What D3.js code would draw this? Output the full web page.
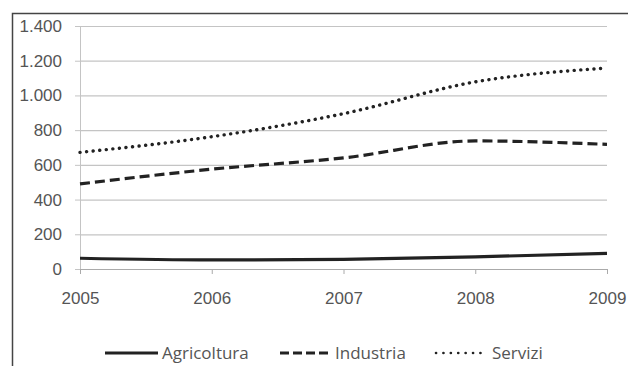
<!DOCTYPE html>
<html>
<head>
<meta charset="utf-8">
<script src="https://cdn.jsdelivr.net/npm/d3@7"></script>
<style>
  body { margin: 0; background: #fff; }
  svg { display: block; font-family: "Open Sans", "Noto Sans", sans-serif; }
</style>
</head>
<body>
<div id="chart"></div>
<script>
// years on the x axis
const years = [2005, 2006, 2007, 2008, 2009];
// values per sector
const agricoltura = [62, 52, 56, 70, 90];
const industria = [490, 575, 640, 738, 718];
const servizi = [672, 762, 895, 1078, 1158];
const yTicks = [0, 200, 400, 600, 800, 1000, 1200, 1400];

const series = [
  { name: "Agricoltura", values: agricoltura, dash: null, cap: "butt" },
  { name: "Industria", values: industria, dash: "10,5", cap: "butt" },
  { name: "Servizi", values: servizi, dash: "0.1,6.5", cap: "round" }
];

const W = 628, H = 366;
const margin = { top: 26, right: 21, bottom: 97, left: 80 };
const width = W - margin.left - margin.right;
const height = H - margin.top - margin.bottom;

const svg = d3.select("#chart").append("svg")
  .attr("width", W).attr("height", H);

// frame (top and left edges visible)
svg.append("path")
  .attr("d", `M12.5,${H} L12.5,13.5 L${W},13.5`)
  .attr("fill", "none").attr("stroke", "#444").attr("stroke-width", 1.5);

const g = svg.append("g").attr("transform", `translate(${margin.left},${margin.top})`);

const x = d3.scaleLinear().domain([2005, 2009]).range([0, width]);
const y = d3.scaleLinear().domain([0, 1400]).range([height, 0]);

// gridlines
g.append("g").selectAll("line").data(yTicks.filter(d => d > 0)).join("line")
  .attr("x1", 0).attr("x2", width)
  .attr("y1", d => y(d) + 0.5).attr("y2", d => y(d) + 0.5)
  .attr("stroke", "#c4c4c4").attr("stroke-width", 1.2);

// y axis
const yAxis = g.append("g")
  .call(d3.axisLeft(y).tickValues(yTicks).tickSize(5)
    .tickFormat(d => d3.format(",")(d).replace(/,/g, ".")));
yAxis.select(".domain").attr("stroke", "#c4c4c4");
yAxis.selectAll(".tick line").attr("stroke", "#c4c4c4");
yAxis.selectAll(".tick text").attr("fill", "#555").attr("font-size", 17).attr("x", -18);

// x axis
const xAxis = g.append("g").attr("transform", `translate(0,${height})`)
  .call(d3.axisBottom(x).tickValues(years).tickSize(5).tickFormat(d3.format("d")));
xAxis.select(".domain").attr("stroke", "#aaa").attr("d", `M0,0.5H${width}`);
xAxis.selectAll(".tick line").attr("stroke", "#aaa");
xAxis.selectAll(".tick text").attr("fill", "#555").attr("font-size", 17).attr("y", 23);

const line = d3.line()
  .x((d, i) => x(years[i]))
  .y(d => y(d))
  .curve(d3.curveMonotoneX);

g.selectAll(".series").data(series).join("path")
  .attr("class", "series")
  .attr("fill", "none")
  .attr("stroke", "#222")
  .attr("stroke-width", s => s.cap === "round" ? 3.4 : 3.2)
  .attr("stroke-linecap", s => s.cap)
  .attr("stroke-dasharray", s => s.dash)
  .attr("d", s => line(s.values));

// legend
const legendItems = [
  { s: series[0], x1: 105, x2: 158, tx: 162, dash: null, sw: 3 },
  { s: series[1], x1: 280, x2: 331, tx: 335, dash: "9,4", sw: 3 },
  { s: series[2], x1: 436, x2: 486, tx: 492, dash: "0.1,7.3", sw: 2.6 }
];
const ly = 353;
const lg = svg.append("g");
lg.selectAll("line").data(legendItems).join("line")
  .attr("x1", d => d.x1).attr("x2", d => d.x2)
  .attr("y1", ly).attr("y2", ly)
  .attr("stroke", "#222").attr("stroke-width", d => d.sw)
  .attr("stroke-linecap", d => d.s.cap)
  .attr("stroke-dasharray", d => d.dash);
lg.selectAll("text").data(legendItems).join("text")
  .attr("x", d => d.tx).attr("y", ly + 6)
  .attr("fill", "#555").attr("font-size", 17)
  .text(d => d.s.name);
</script>
</body>
</html>
